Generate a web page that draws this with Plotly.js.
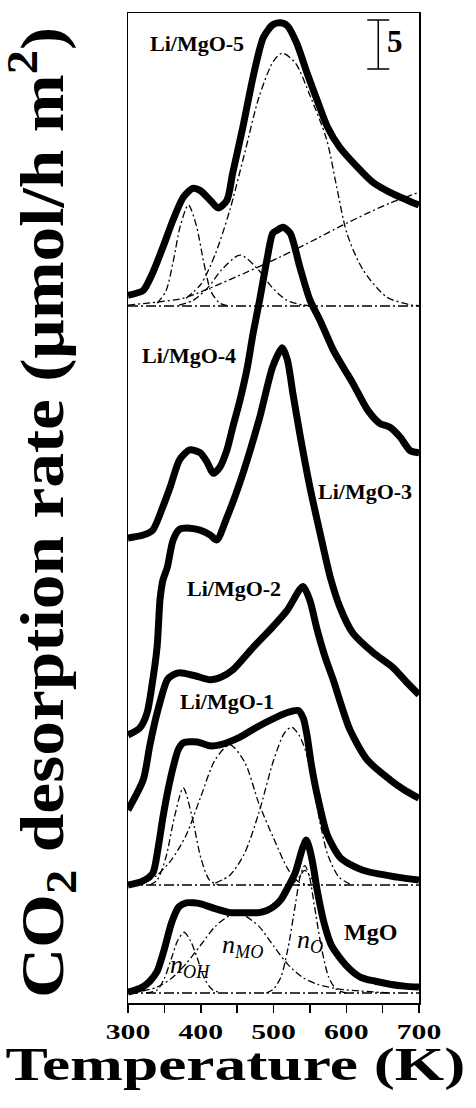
<!DOCTYPE html>
<html>
<head>
<meta charset="utf-8">
<script src="https://cdn.plot.ly/plotly-3.0.1.min.js"></script>
<style>
  html, body { margin: 0; padding: 0; background: #fff; }
  #chart { width: 476px; height: 1108px; }
</style>
</head>
<body>
<div id="chart"></div>
<script>
// CO2 TPD profiles, stacked with vertical offsets (units: umol/h m2)

// Baseline offset of each profile in the stack
const OFFSET_MGO = 1.02;
const OFFSET_LI1 = 12.04;
const OFFSET_LI2 = 19.39;
const OFFSET_LI3 = 27.35;
const OFFSET_LI4 = 47.45;
const OFFSET_LI5 = 71.12;

// MgO
const T_MGO = [300,310,320,330,340,350,360,370,380,390,400,420,440,460,480,490,500,510,520,530,540,545,550,555,560,570,580,600,620,640,660,680,700];
const R_MGO = [0.1,0.3,0.6,1.2,2.2,4.5,7.2,8.8,9.2,9.2,9.1,8.6,8.2,8.2,8.2,8.4,8.8,9.5,10.8,12.3,14.8,15.6,14.6,12.8,10.5,7.0,4.8,2.8,1.6,1.2,0.9,0.7,0.6];
// MgO deconvolution: n_OH, n_MO, n_O
const T_MGO_OH = [325,340,350,360,368,377,386,395,405,415,428];
const R_MGO_OH = [0,0.3,1.5,3.6,5.3,6.2,5.3,3.6,1.5,0.4,0];
const T_MGO_MO = [320,340,360,380,400,420,440,450,460,480,500,520,540,560,590,620,660];
const R_MGO_MO = [0.2,0.6,1.5,3.0,4.9,6.8,7.9,8.0,7.9,6.8,4.8,2.9,1.6,0.9,0.4,0.2,0];
const T_MGO_O = [490,500,510,520,530,537,543,549,556,566,576,586,600];
const R_MGO_O = [0,0.4,1.6,4.6,9.0,12.0,13.0,12.0,9.0,4.6,1.6,0.4,0];

// Li/MgO-1
const T_LI1 = [300,320,334,341,348,355,362,369,376,395,413,426,454,477,495,519,534,541,546,552,560,574,593,623,670,700];
const R_LI1 = [0.0,0.4,1.2,3.6,6.9,9.7,12.0,13.8,14.5,14.6,14.2,14.3,15.1,16.1,16.8,17.6,17.8,17.0,15.3,12.3,9.2,5.1,2.7,1.5,0.8,0.5];
const T_LI1_C1 = [330,340,352,364,376,388,400,412,425];
const R_LI1_C1 = [0,0.5,2.8,7.0,9.9,7.0,2.8,0.5,0];
const T_LI1_C2 = [325,340,360,380,400,420,440,460,480,500,520,535,550];
const R_LI1_C2 = [0.3,1.0,2.6,5.1,9.0,12.8,14.3,12.6,8.3,4.8,1.6,0.3,0];
const T_LI1_C3 = [420,440,460,480,500,515,525,535,545,555,565,575,590,605];
const R_LI1_C3 = [0.2,1.0,3.2,7.4,12.7,15.5,16.1,15.3,13.5,10.0,6.0,3.0,0.8,0.1];
const T_LI1_C4 = [525,535,543,551,561];
const R_LI1_C4 = [0,0.8,1.5,0.8,0];

// Li/MgO-2
const T_LI2 = [300,321,330,340,354,362,371,392,413,429,444,472,499,519,536,541,550,560,571,582,605,629,660,681,700];
const R_LI2 = [0.3,3.4,6.9,10.2,13.6,14.1,14.3,14.0,13.6,13.9,14.6,16.9,19.0,20.7,22.8,23.1,21.7,18.7,15.9,13.6,8.5,5.4,3.4,2.3,1.5];

// Li/MgO-3
const T_LI3 = [300,316,326,333,340,344,348,354,362,371,385,399,413,422,436,458,481,499,512,519,527,536,550,564,578,591,609,637,664,684,700];
const R_LI3 = [0,0.7,2.2,5.1,9.0,13.8,15.8,17.1,19.9,21.0,21.1,20.9,20.4,19.9,22.2,26.7,32.4,37.6,39.5,38.3,34.7,30.8,25.3,20.6,16.1,13.1,10.4,8.4,6.9,5.3,4.1];

// Li/MgO-4
const T_LI4 = [300,321,334,348,358,371,385,399,409,417,426,436,444,454,464,472,481,491,499,505,513,523,536,550,564,582,596,609,629,646,660,674,688,700];
const R_LI4 = [0,0.3,0.8,3.2,5.2,8.0,9.0,8.7,7.7,6.6,7.2,9.0,11.3,14.1,17.4,20.9,24.3,28.4,31.1,31.4,31.7,31.1,27.7,24.3,22.2,19.2,17.4,15.8,13.1,11.7,11.3,10.3,8.9,8.7];

// Li/MgO-5
const T_LI5 = [300,321,334,348,362,376,389,399,413,424,436,444,458,472,486,499,509,519,532,546,560,574,591,615,637,660,684,700];
const R_LI5 = [1.1,1.6,3.4,6.0,8.8,11.1,12.0,11.8,10.8,10.0,10.8,13.6,18.3,23.4,27.4,28.7,28.9,28.6,26.8,23.8,21.0,18.3,16.2,14.2,12.6,11.6,10.8,10.3];
const T_LI5_C1 = [340,352,362,372,383,394,404,414,426,440];
const R_LI5_C1 = [0.3,1.5,4.5,8.2,10.3,8.2,4.5,1.5,0.3,0];
const T_LI5_C2 = [370,390,410,430,454,478,498,518,540,560];
const R_LI5_C2 = [0.1,0.6,1.9,3.8,5.2,3.8,1.9,0.6,0.1,0];
const T_LI5_C3 = [380,400,420,440,460,480,500,512,530,550,573,587,601,623,656,690,700];
const R_LI5_C3 = [0.8,2.2,5.3,9.8,15.5,21.3,25.0,25.8,24.8,21.5,17.0,12.1,7.4,3.7,0.9,0.1,0.05];
const T_LI5_C4 = [300,340,376,440,509,560,591,630,660,700];
const R_LI5_C4 = [0.1,0.4,0.8,2.7,5.0,6.9,8.1,9.5,10.5,11.6];

// Scale bar: 5 umol/h m2
const SCALE_T = 644;
const SCALE_MID = 97.8;
const SCALE_SIZE = 5;

const T_RANGE = [300, 700];
const X_TICKS = [300, 400, 500, 600, 700];

const SERIF = 'Liberation Serif, Times New Roman, serif';

function shift(vals, off) { return vals.map(v => v + off); }

function thick(T, R, off) {
  return { x: T, y: shift(R, off), mode: 'lines', hoverinfo: 'skip',
    line: { color: '#000', width: 7, shape: 'spline', smoothing: 0.7 } };
}
function comp(T, R, off) {
  return { x: T, y: shift(R, off), mode: 'lines', hoverinfo: 'skip',
    line: { color: '#000', width: 1.3, dash: '7px,3px,2px,3px', shape: 'spline', smoothing: 0.8 } };
}
function base(off) {
  return { x: T_RANGE, y: [off, off], mode: 'lines', hoverinfo: 'skip',
    line: { color: '#000', width: 1.3, dash: '10px,3px,2px,3px' } };
}

const traces = [
  base(OFFSET_MGO), base(OFFSET_LI1), base(OFFSET_LI5),
  comp(T_MGO_OH, R_MGO_OH, OFFSET_MGO),
  comp(T_MGO_MO, R_MGO_MO, OFFSET_MGO),
  comp(T_MGO_O, R_MGO_O, OFFSET_MGO),
  comp(T_LI1_C1, R_LI1_C1, OFFSET_LI1),
  comp(T_LI1_C2, R_LI1_C2, OFFSET_LI1),
  comp(T_LI1_C3, R_LI1_C3, OFFSET_LI1),
  comp(T_LI1_C4, R_LI1_C4, OFFSET_LI1),
  comp(T_LI5_C1, R_LI5_C1, OFFSET_LI5),
  comp(T_LI5_C2, R_LI5_C2, OFFSET_LI5),
  comp(T_LI5_C3, R_LI5_C3, OFFSET_LI5),
  comp(T_LI5_C4, R_LI5_C4, OFFSET_LI5),
  thick(T_MGO, R_MGO, OFFSET_MGO),
  thick(T_LI1, R_LI1, OFFSET_LI1),
  thick(T_LI2, R_LI2, OFFSET_LI2),
  thick(T_LI3, R_LI3, OFFSET_LI3),
  thick(T_LI4, R_LI4, OFFSET_LI4),
  thick(T_LI5, R_LI5, OFFSET_LI5),
  { x: [SCALE_T], y: [SCALE_MID], mode: 'markers', hoverinfo: 'skip',
    marker: { size: 1, color: 'rgba(0,0,0,0)' },
    error_y: { type: 'data', array: [SCALE_SIZE / 2], visible: true,
      color: '#000', thickness: 1.5, width: 11 } }
];

function label(text, x, y, size, extra) {
  return Object.assign({ text: text, x: x, y: y, xref: 'x', yref: 'y',
    xanchor: 'center', yanchor: 'middle',
    showarrow: false, font: { family: SERIF, size: size, color: '#000' } }, extra || {});
}

const layout = {
  width: 476, height: 1108,
  margin: { l: 128, r: 57, t: 13, b: 105 },
  paper_bgcolor: '#fff', plot_bgcolor: '#fff',
  showlegend: false,
  xaxis: {
    range: T_RANGE, tickvals: X_TICKS, ticks: 'outside', ticklen: 8, tickwidth: 1.5,
    tickcolor: '#000', showline: true, linecolor: '#000', linewidth: 1.5, mirror: true,
    showgrid: false, zeroline: false,
    tickfont: { family: SERIF, size: 22, color: '#000', weight: 'bold' },
    minor: { tickvals: [350, 450, 550, 650], ticks: 'outside', ticklen: 8, tickwidth: 1.5, tickcolor: '#000' }
  },
  yaxis: {
    range: [0, 101.02], showticklabels: false, ticks: '', showline: true,
    linecolor: '#000', linewidth: 1.5, mirror: true, showgrid: false, zeroline: false
  },
  annotations: [
    label('<b>Li/MgO-5</b>', 395.5, 97.9, 22),
    label('<b>Li/MgO-4</b>', 384, 66.1, 22),
    label('<b>Li/MgO-3</b>', 626, 52.2, 22),
    label('<b>Li/MgO-2</b>', 446, 42.3, 22),
    label('<b>Li/MgO-1</b>', 436, 30.8, 22),
    label('<b>MgO</b>', 634, 7.2, 24),
    label('<i>n</i><sub><i>OH</i></sub>', 355, 3.8, 26, { xanchor: 'left' }),
    label('<i>n</i><sub><i>MO</i></sub>', 426, 5.8, 26, { xanchor: 'left' }),
    label('<i>n</i><sub><i>O</i></sub>', 529, 6.3, 26, { xanchor: 'left' }),
    label('<b>5</b>', 667, 98.1, 31),
    { text: '<b>Temperature (K)</b>', x: 0.371, y: -0.062, xref: 'paper', yref: 'paper',
      xanchor: 'center', yanchor: 'middle',
      showarrow: false, font: { family: SERIF, size: 47, color: '#000' } },
    { text: '<b>CO<sub>2</sub> desorption rate (μmol/h m<sup>2</sup>)</b>', x: -0.295, y: 0.495,
      xref: 'paper', yref: 'paper', textangle: -90, showarrow: false,
      xanchor: 'center', yanchor: 'middle',
      font: { family: SERIF, size: 62, color: '#000' } }
  ]
};

// Stretch selected text around its own centre
function widen(el, sLocalX, sLocalY) {
  const baseTf = el.getAttribute('transform') || '';
  const b = el.getBBox();
  const cx = b.x + b.width / 2, cy = b.y + b.height / 2;
  el.setAttribute('transform', baseTf + ' translate(' + cx + ',' + cy + ') scale(' + sLocalX + ',' + sLocalY + ') translate(' + (-cx) + ',' + (-cy) + ')');
}

Plotly.newPlot('chart', traces, layout, { staticPlot: true, displayModeBar: false }).then(gd => {
  gd.querySelectorAll('.xtick text').forEach(el => widen(el, 1.35, 1));
  gd.querySelectorAll('.annotation-text').forEach(el => {
    const t = el.textContent;
    if (t.indexOf('Temperature') === 0) widen(el, 1.35, 1);
    else if (t.indexOf('CO') === 0) widen(el, 1.12, 1);
  });
});
</script>
</body>
</html>
